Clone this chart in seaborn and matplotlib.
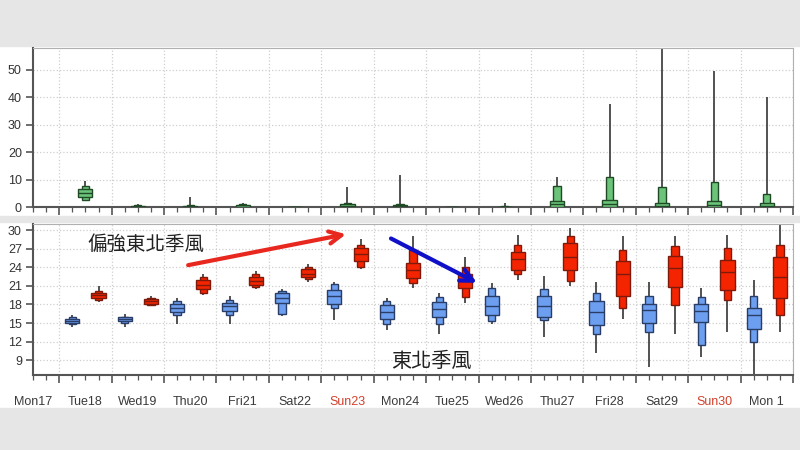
import numpy as np
import matplotlib.pyplot as plt
import seaborn as sns
from matplotlib.patches import Rectangle

# day labels (Mon17 .. Mon 1) and which ones are Sundays
day_labels = ['Mon17', 'Tue18', 'Wed19', 'Thu20', 'Fri21', 'Sat22', 'Sun23',
              'Mon24', 'Tue25', 'Wed26', 'Thu27', 'Fri28', 'Sat29', 'Sun30', 'Mon 1']
sundays = ['Sun23', 'Sun30']

# forecast days that have boxes: Tue18 .. Mon 1 (index into day_labels)
box_days = list(range(1, 15))

# precipitation (mm): min, p10, p25, median, p75, p90, max
rain_min = [2.2, 0, 0, 0, 0, 0, 0, 0, 0, 0, 0, 0, 0, 0]
rain_p10 = [2.7, 0, 0, 0, 0, 0, 0, 0, 0, 0, 0, 0, 0, 0]
rain_p25 = [3.7, 0, 0, 0, 0, 0, 0, 0, 0, 0, 0, 0, 0, 0]
rain_med = [5.3, 0.15, 0.15, 0.3, 0.05, 0.5, 0.4, 0.0, 0.1, 1.1, 1.3, 0.6, 1.0, 0.7]
rain_p75 = [6.7, 0.4, 0.4, 0.8, 0.1, 1.2, 0.8, 0.05, 0.3, 2.45, 2.8, 1.6, 2.45, 1.8]
rain_p90 = [7.7, 0.8, 0.8, 1.4, 0.2, 1.8, 1.2, 0.1, 0.5, 7.7, 11.2, 7.6, 9.4, 4.9]
rain_max = [9.5, 1.2, 3.9, 1.8, 0.3, 7.3, 11.8, 0.2, 1.6, 11.0, 37.8, 59.0, 49.8, 40.2]

# morning temperature (blue)
blue_min = [14.3, 14.4, 14.9, 14.8, 16.2, 15.5, 13.8, 13.2, 14.8, 12.8, 10.2, 7.9, 9.5, 6.4]
blue_p10 = [14.8, 15.0, 16.3, 16.3, 16.5, 17.5, 14.8, 14.8, 15.4, 15.45, 13.2, 13.6, 11.5, 12.0]
blue_p25 = [15.0, 15.25, 16.7, 16.9, 18.2, 18.05, 15.6, 16.05, 16.3, 15.95, 14.7, 15.0, 15.1, 14.0]
blue_med = [15.3, 15.6, 17.35, 17.7, 19.0, 19.4, 16.8, 17.3, 17.8, 17.8, 16.7, 17.1, 16.9, 16.3]
blue_p75 = [15.6, 15.9, 18.0, 18.3, 19.8, 20.4, 17.9, 18.45, 19.35, 19.35, 18.5, 18.15, 18.15, 17.4]
blue_p90 = [15.9, 16.05, 18.5, 18.7, 20.2, 21.3, 18.5, 19.2, 20.6, 20.5, 19.8, 19.4, 19.2, 19.4]
blue_max = [16.3, 16.4, 19.0, 19.3, 20.5, 21.65, 19.0, 19.85, 21.4, 22.6, 21.55, 21.55, 20.6, 21.9]

# afternoon temperature (red)
red_min = [18.4, 17.7, 19.55, 20.5, 21.7, 23.7, 20.6, 18.2, 21.9, 21.05, 15.6, 13.3, 13.5, 13.6]
red_p10 = [18.7, 17.85, 19.9, 20.75, 22.1, 24.1, 21.4, 19.2, 22.9, 21.8, 17.5, 17.9, 18.7, 16.3]
red_p25 = [19.0, 18.05, 20.5, 21.2, 22.45, 25.05, 22.35, 20.6, 23.6, 23.55, 19.4, 20.8, 20.3, 19.1]
red_med = [19.5, 18.5, 21.2, 21.8, 23.0, 26.1, 23.5, 21.8, 25.3, 25.7, 22.9, 23.9, 23.3, 22.5]
red_p75 = [19.9, 18.85, 21.9, 22.45, 23.7, 27.1, 24.75, 22.9, 26.5, 27.9, 25.0, 25.85, 25.15, 25.7]
red_p90 = [20.2, 19.1, 22.45, 22.9, 24.1, 27.6, 26.8, 24.0, 27.65, 29.0, 26.8, 27.45, 27.1, 27.6]
red_max = [21.0, 19.4, 23.0, 23.4, 24.6, 28.5, 29.0, 25.6, 29.2, 30.4, 29.1, 29.1, 29.25, 31.5]


def draw_boxes(ax, x, lo, p10, p25, med, p75, p90, hi, face, edge):
    x = np.asarray(x, dtype=float)
    ax.vlines(x, lo, hi, color='#444444', lw=1.3, zorder=2)
    ax.bar(x, np.subtract(p90, p10), bottom=p10, width=0.14,
           color=face, edgecolor=edge, linewidth=1.0, zorder=3)
    ax.bar(x, np.subtract(p75, p25), bottom=p25, width=0.27,
           color=face, edgecolor=edge, linewidth=1.0, zorder=4)
    ax.hlines(med, x - 0.135, x + 0.135, color=edge, lw=1.0, zorder=5)


def style_axis(ax):
    ax.set_facecolor('white')
    ax.set_xlim(0.5, 15.0)
    ax.set_xticks(range(1, 16))
    ax.set_xticks(np.arange(0.5, 15.01, 0.25), minor=True)
    ax.tick_params(axis='x', which='both', bottom=True, labelbottom=False)
    ax.tick_params(axis='x', which='major', length=6, width=1.2, color='#555555',
                   direction='out')
    ax.tick_params(axis='x', which='minor', length=3.5, width=0.9, color='#555555',
                   direction='out')
    ax.tick_params(axis='y', which='major', left=True, length=5, width=1.2,
                   color='#555555', labelsize=9, labelcolor='#333333', pad=3)
    ax.grid(True, which='major', color='#cfcfcf', linestyle=':', linewidth=0.9)
    ax.set_axisbelow(True)
    for side in ['left', 'bottom']:
        ax.spines[side].set_color('#555555')
        ax.spines[side].set_linewidth(1.5)
    for side in ['top', 'right']:
        ax.spines[side].set_color('#b0b0b0')
        ax.spines[side].set_linewidth(0.8)


sns.set_style('whitegrid')
plt.rcParams['font.family'] = ['Liberation Sans', 'Noto Sans CJK TC', 'DejaVu Sans']

fig = plt.figure(figsize=(8, 4.5), dpi=100)
fig.patch.set_facecolor('white')

# grey frame bands of the screenshot
for y0, h in [(0.898, 0.102), (0.0, 0.0933), (0.5067, 0.0133)]:
    fig.add_artist(Rectangle((0, y0), 1, h, transform=fig.transFigure,
                             color='#e6e6e6', zorder=-1))

ax1 = fig.add_axes([0.04125, 0.539, 0.95, 0.3544])
ax2 = fig.add_axes([0.04125, 0.1667, 0.95, 0.3355])

# precipitation panel
style_axis(ax1)
ax1.set_ylim(0, 58)
ax1.set_yticks(range(0, 51, 10))
draw_boxes(ax1, np.add(box_days, 0.5), rain_min, rain_p10, rain_p25, rain_med,
           rain_p75, rain_p90, rain_max, '#6cc47a', '#1f4a25')

# temperature panel
style_axis(ax2)
ax2.set_ylim(6.6, 31)
ax2.set_yticks(range(9, 31, 3))
draw_boxes(ax2, np.add(box_days, 0.25), blue_min, blue_p10, blue_p25, blue_med,
           blue_p75, blue_p90, blue_max, '#6d9ff0', '#2a3d66')
draw_boxes(ax2, np.add(box_days, 0.75), red_min, red_p10, red_p25, red_med,
           red_p75, red_p90, red_max, '#f52400', '#7e1a0c')

# day names under the lower panel
for i, name in enumerate(day_labels):
    ax2.text(i + 0.5, -0.179, name, transform=ax2.get_xaxis_transform(),
             ha='center', va='center', fontsize=9,
             color='#d0402c' if name in sundays else '#3a3a3a')

# annotations
cjk = ['Noto Sans CJK TC', 'DejaVu Sans']
ax2.text(2.66, 27.75, '偏強東北季風', ha='center', va='center', fontsize=14,
         color='#222222', family=cjk)
ax2.text(8.11, 8.75, '東北季風', ha='center', va='center', fontsize=14.5,
         color='#222222', family=cjk)
ax2.annotate('', xy=(6.47, 29.35), xytext=(3.46, 24.35), zorder=10,
             arrowprops=dict(arrowstyle='->', color='#e8281e', lw=3,
                             mutation_scale=22, shrinkA=0, shrinkB=0))
ax2.annotate('', xy=(8.97, 21.5), xytext=(7.33, 28.66), zorder=10,
             arrowprops=dict(arrowstyle='->', color='#1010c8', lw=3,
                             mutation_scale=22, shrinkA=0, shrinkB=0))

fig.savefig('out.png', dpi=100)
